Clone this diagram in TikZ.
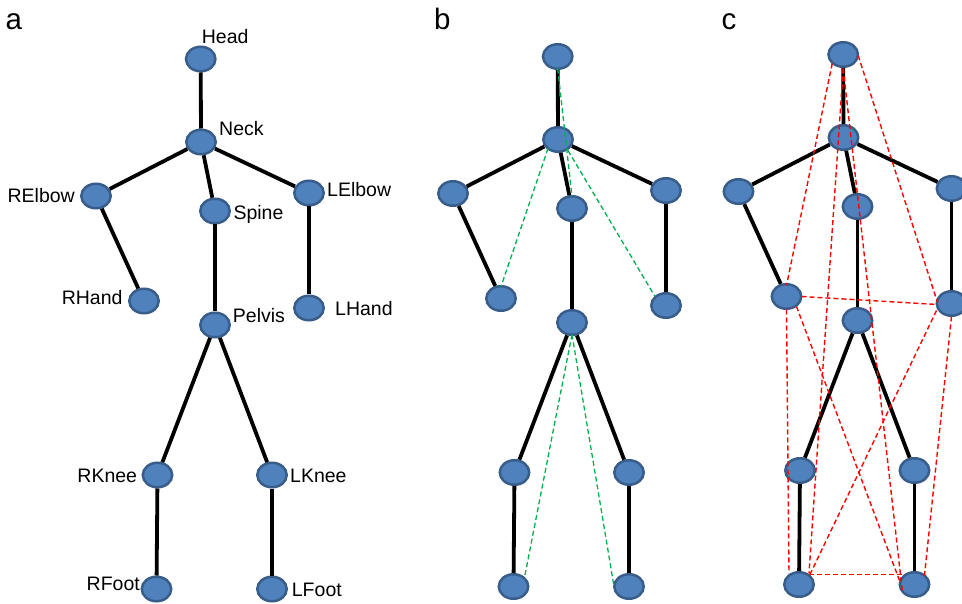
\documentclass[tikz,border=0pt]{standalone}
\usepackage{fontspec}
\setmainfont{Liberation Sans}
\usetikzlibrary{shapes.geometric,calc}
\definecolor{nodefill}{HTML}{4F81BD}
\definecolor{nodeedge}{HTML}{385D8A}
\definecolor{gdash}{HTML}{00B050}
\definecolor{rdash}{HTML}{FF0000}
\tikzset{
  joint/.style={ellipse, fill=nodefill, draw=nodeedge, line width=2.5pt,
    minimum width=29.5pt, minimum height=24.5pt, inner sep=0pt},
  bone/.style={line width=3.8pt, black},
  gline/.style={gdash, line width=1.3pt, dash pattern=on 5pt off 3pt},
  rline/.style={rdash, line width=1.4pt, dash pattern=on 5pt off 3pt},
  lbl/.style={font=\fontsize{19.5}{22}\selectfont, inner sep=0pt},
  letter/.style={font=\fontsize{29.5}{32}\selectfont, inner sep=0pt, anchor=base west},
}
\newcommand\drawskel[3]{%
  \begin{scope}[shift={(#2,#3)}]
    \node[joint] (#1Head)   at (200.7,59)  {};
    \node[joint] (#1Neck)   at (201,142)   {};
    \node[joint] (#1RElbow) at (96,196)    {};
    \node[joint] (#1Spine)  at (215,211)   {};
    \node[joint] (#1LElbow) at (309,193)   {};
    \node[joint] (#1RHand)  at (144,301)   {};
    \node[joint] (#1LHand)  at (309,308)   {};
    \node[joint] (#1Pelvis) at (215,325)   {};
    \node[joint] (#1RKnee)  at (157.5,475) {};
    \node[joint] (#1LKnee)  at (272,475)   {};
    \node[joint] (#1RFoot)  at (156.5,589) {};
    \node[joint] (#1LFoot)  at (272,589)   {};
  \end{scope}
  \draw[bone] (#1Head) -- (#1Neck);
  \draw[bone] (#1Neck) -- (#1RElbow);
  \draw[bone] (#1Neck) -- (#1Spine);
  \draw[bone] (#1Neck) -- (#1LElbow);
  \draw[bone] (#1RElbow) -- (#1RHand);
  \draw[bone] (#1LElbow) -- (#1LHand);
  \draw[bone] (#1Spine) -- (#1Pelvis);
  \draw[bone] (#1Pelvis) -- (#1RKnee);
  \draw[bone] (#1Pelvis) -- (#1LKnee);
  \draw[bone] (#1RKnee) -- (#1RFoot);
  \draw[bone] (#1LKnee) -- (#1LFoot);
}
\begin{document}
\begin{tikzpicture}[x=1pt,y=-1pt]
  \useasboundingbox (0,0) rectangle (962,604);
  % panel letters
  \node[letter] (la) at (5.5,29.3) {a};
  \node[letter] (lb) at (434,29.3) {b};
  \node[letter] (lc) at (721.5,29.3) {c};
  % skeletons
  \drawskel{a}{0}{0}
  \drawskel{b}{357}{-2.5}
  \drawskel{c}{642.5}{-4.5}
  % labels panel a
  \node[lbl, anchor=base west] (tHead)   at (201.7,44)  {Head};
  \node[lbl, anchor=base west] (tNeck)   at (219,136)   {Neck};
  \node[lbl, anchor=base east] (tRElbow) at (75,202.3)  {RElbow};
  \node[lbl, anchor=base west] (tSpine)  at (233.3,220) {Spine};
  \node[lbl, anchor=base west] (tLElbow) at (327,197)   {LElbow};
  \node[lbl, anchor=base east] (tRHand)  at (122.7,305) {RHand};
  \node[lbl, anchor=base west] (tPelvis) at (232.7,322.7) {Pelvis};
  \node[lbl, anchor=base west] (tLHand)  at (335,316)   {LHand};
  \node[lbl, anchor=base east] (tRKnee)  at (137.3,482.7) {RKnee};
  \node[lbl, anchor=base west] (tLKnee)  at (290,482.7) {LKnee};
  \node[lbl, anchor=base east] (tRFoot)  at (140,590)   {RFoot};
  \node[lbl, anchor=base west] (tLFoot)  at (291.7,596) {LFoot};
  % green dashed (panel b)
  \draw[gline] ($(bHead)+(0,12)$) -- ($(bSpine)+(0,-12)$);
  \draw[gline] ($(bNeck)+(-10,9)$) -- ($(bRHand)+(0,-12)$);
  \draw[gline] ($(bNeck)+(10,11)$) -- ($(bLHand)+(-11,-9)$);
  \draw[gline] ($(bPelvis)+(0,12)$) -- ($(bRFoot)+(11,-9)$);
  \draw[gline] ($(bPelvis)+(0,12)$) -- ($(bLFoot)+(-15,0)$);
  % red dashed (panel c)
  \draw[rline] ($(cHead)+(-11,9)$) -- ($(cRHand)+(0,-11)$);
  \draw[rline] ($(cHead)+(15,1)$) -- ($(cLHand)+(-14,-1)$);
  \draw[rline] ($(cHead)+(0,14)$) -- ($(cRFoot)+(10,-11)$);
  \draw[rline] ($(cHead)+(0,14)$) -- ($(cLFoot)+(-12,8)$);
  \draw[rline] ($(cRHand)+(15,0)$) -- ($(cLHand)+(-14,1)$);
  \draw[rline] ($(cRHand)+(0,13)$) -- ($(cRFoot)+(-10,-11)$);
  \draw[rline] ($(cRHand)+(10,10)$) -- ($(cLFoot)+(-15,-4)$);
  \draw[rline] ($(cLHand)+(-15,7)$) -- ($(cRFoot)+(10,-8)$);
  \draw[rline] ($(cLHand)+(0,13)$) -- ($(cLFoot)+(10,-9)$);
  \draw[rline] ($(cRFoot)+(10,-10)$) -- ($(cLFoot)+(-13,-10)$);
\end{tikzpicture}
\end{document}
